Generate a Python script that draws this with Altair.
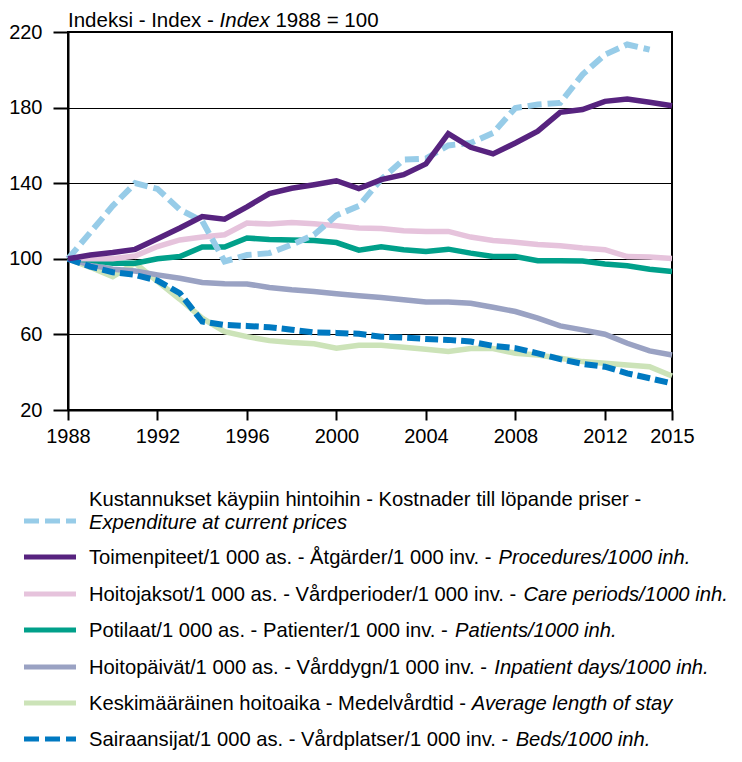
import altair as alt
import pandas as pd

# ---------------- data ----------------
years = list(range(1988, 2016))

expenditure = [100, 114, 128, 140, 137, 126, 120, 98.6, 102, 103, 107.5, 112.7, 123, 128,
               142, 152.5, 153, 160, 161.3, 166.6, 179.8, 181.6, 182.5, 197.5, 208, 213.4, 210.7, None]
procedures = [100, 102, 103.3, 105, 110.6, 116.3, 122.4, 121, 127.5, 134.5, 137.3, 139.2, 141.3, 137.2,
              141.9, 144.5, 150.2, 166.2, 159, 155.5, 161.3, 167.5, 177.5, 179, 183.3, 184.5, 182.8, 181]
care_periods = [100, 100.2, 100, 101.5, 106.5, 110, 111.5, 112.7, 118.9, 118.4, 119.2, 118.5, 117.5, 116.3,
                116, 114.8, 114.5, 114.5, 111.5, 109.7, 108.8, 107.6, 106.9, 105.7, 104.8, 101.2, 100.9, 100.2]
patients = [100, 99.3, 97.7, 97.7, 100, 101.2, 106.2, 106.2, 111, 110.2, 109.9, 109.7, 108.6, 104.6,
            106.3, 104.8, 103.9, 105.1, 103, 101.2, 101.2, 99, 99, 98.8, 97.2, 96.3, 94.5, 93.3]
inpatient_days = [100, 96.8, 94.5, 93.5, 91.5, 89.7, 87.5, 86.8, 86.7, 84.8, 83.6, 82.7, 81.5, 80.4,
                  79.5, 78.3, 77.2, 77.2, 76.5, 74.4, 72.1, 68.6, 64.5, 62.4, 60.1, 55.3, 51.3, 49.1]
avg_stay = [100, 95.5, 90.6, 97.7, 88, 78.6, 68.6, 61.5, 58.8, 56.7, 55.7, 55, 52.7, 54.2,
            54.2, 53.2, 52.2, 50.9, 52.5, 52.5, 50, 49.1, 47.4, 45.6, 44.7, 43.8, 42.9, 38]
beds = [100, 95.9, 92.9, 91.5, 88.5, 81.8, 66.8, 65, 64.5, 63.8, 62.5, 61, 60.8, 60.3,
        58.8, 58.3, 57.6, 57.1, 56.2, 53.9, 52.7, 50, 46.9, 44.4, 42.9, 39.4, 36.8, 34.1]

series_keys = ["exp", "proc", "care", "pat", "days", "stay", "beds"]
series_values = [expenditure, procedures, care_periods, patients, inpatient_days, avg_stay, beds]

legend_normal = [
    "Kustannukset käypiin hintoihin - Kostnader till löpande priser - ",
    "Toimenpiteet/1 000 as. - Åtgärder/1 000 inv. - ",
    "Hoitojaksot/1 000 as. - Vårdperioder/1 000 inv. - ",
    "Potilaat/1 000 as. - Patienter/1 000 inv. - ",
    "Hoitopäivät/1 000 as. - Vårddygn/1 000 inv. - ",
    "Keskimääräinen hoitoaika - Medelvårdtid - ",
    "Sairaansijat/1 000 as. - Vårdplatser/1 000 inv. - ",
]
legend_italic = [
    "Expenditure at current prices",
    "Procedures/1000 inh.",
    "Care periods/1000 inh.",
    "Patients/1000 inh.",
    "Inpatient days/1000 inh.",
    "Average length of stay",
    "Beds/1000 inh.",
]

x_ticks = [1988, 1992, 1996, 2000, 2004, 2008, 2012, 2015]
y_ticks = [20, 60, 100, 140, 180, 220]

# ---------------- styles ----------------
FONT = "Liberation Sans"
colors = {"exp": "#97CCE8", "proc": "#57237F", "care": "#E6C3DC", "pat": "#00A08A",
          "days": "#9AA2C3", "stay": "#CCE3B8", "beds": "#0079C1"}
dashes = {"exp": [14, 6], "beds": [13, 5]}
widths = {"exp": 6, "beds": 6}
draw_order = ["stay", "days", "pat", "care", "exp", "beds", "proc"]

W, H = 604, 378

rows = []
for key, vals in zip(series_keys, series_values):
    for yr, v in zip(years, vals):
        if v is not None:
            rows.append({"year": yr, "value": v, "series": key})
df = pd.DataFrame(rows)

x_enc = alt.X("year:Q",
              scale=alt.Scale(domain=[1988, 2015], nice=False, zero=False),
              axis=alt.Axis(values=x_ticks, format="d", title=None, grid=False,
                            tickSize=10, labelPadding=6, labelFlush=False,
                            labelOverlap=False))
y_enc = alt.Y("value:Q",
              scale=alt.Scale(domain=[20, 220], nice=False, zero=False),
              axis=alt.Axis(values=y_ticks, title=None, grid=True,
                            tickSize=15, labelPadding=11, labelOverlap=False))

layers = []
for key in draw_order:
    mk = dict(color=colors[key], strokeWidth=widths.get(key, 5.5))
    if key in dashes:
        mk["strokeDash"] = dashes[key]
    layers.append(
        alt.Chart(df).transform_filter(alt.datum.series == key)
        .mark_line(**mk).encode(x=x_enc, y=y_enc)
    )

# --- text width helper (Helvetica/Arial metrics) ---
_w = {' ': 278, '-': 333, '/': 278, '.': 278, '=': 584, 'Å': 667, 'ä': 556, 'å': 556, 'ö': 556}
_w.update({c: 556 for c in "0123456789"})
_w.update(dict(A=667, B=667, C=722, D=722, E=667, F=611, G=778, H=722, I=278, J=500, K=667,
               L=556, M=833, N=722, O=778, P=667, Q=778, R=722, S=667, T=611, U=722, V=667,
               W=944, X=667, Y=667, Z=611))
_w.update(dict(a=556, b=556, c=500, d=556, e=556, f=278, g=556, h=556, i=222, j=222, k=500,
               l=222, m=833, n=556, o=556, p=556, q=556, r=333, s=500, t=278, u=556, v=500,
               w=722, x=500, y=500, z=500))
_kern = {"To": -74, " Å": -55}


def text_width(s, size):
    total = sum(_w.get(ch, 556) for ch in s)
    total += sum(_kern.get(s[i:i + 2], 0) for i in range(len(s) - 1))
    return total * size / 1000.0


def text_layer(s, x, y, size, italic=False, baseline="middle"):
    return alt.Chart(pd.DataFrame({"t": [s.strip()]})).mark_text(
        align="left", baseline=baseline, font=FONT, fontSize=size,
        fontStyle="italic" if italic else "normal", color="black"
    ).encode(x=alt.value(x), y=alt.value(y), text="t:N")


# --- title (mixed style) ---
TS = 20.5
t1, t2, t3 = "Indeksi - Index - ", "Index", " 1988 = 100"
ty = -5
layers.append(text_layer(t1, 0, ty, TS, baseline="alphabetic"))
layers.append(text_layer(t2, text_width(t1, TS), ty, TS, True, baseline="alphabetic"))
layers.append(text_layer(t3, text_width(t1 + t2 + " ", TS), ty, TS, baseline="alphabetic"))

# --- legend ---
LS = 20.2
top = 32
sym_x0, sym_x1, txt_x = 24 - 68, 76 - 68, 89 - 68
legend_sym_y = [521, 557, 594, 630, 667, 703, 739]
for i, key in enumerate(series_keys):
    sy = legend_sym_y[i] - top
    mk = dict(color=colors[key], strokeWidth=5)
    if key in dashes:
        mk["strokeDash"] = [15, 6]
    layers.append(alt.Chart(pd.DataFrame({"a": [0]})).mark_rule(**mk).encode(
        x=alt.value(sym_x0), x2=alt.value(sym_x1), y=alt.value(sy)))
    if i == 0:
        layers.append(text_layer(legend_normal[0], txt_x, 500 - top, LS))
        layers.append(text_layer(legend_italic[0], txt_x, 523 - top, LS, True))
    else:
        layers.append(text_layer(legend_normal[i], txt_x, sy + 1, LS))
        layers.append(text_layer(legend_italic[i], txt_x + text_width(legend_normal[i], LS),
                                 sy + 1, LS, True))

chart = alt.layer(*layers).properties(
    width=W, height=H,
    autosize=alt.AutoSizeParams(type="none"),
    padding={"left": 60, "top": 24, "right": 62, "bottom": 344},
).configure_view(
    stroke="black", strokeWidth=2
).configure_axis(
    domainColor="black", domainWidth=2, tickColor="black", tickWidth=2,
    gridColor="black", gridWidth=1, labelColor="black", labelFont=FONT,
    labelFontSize=20
)

chart.save("out.html", embed_options={"renderer": "svg", "actions": False})
